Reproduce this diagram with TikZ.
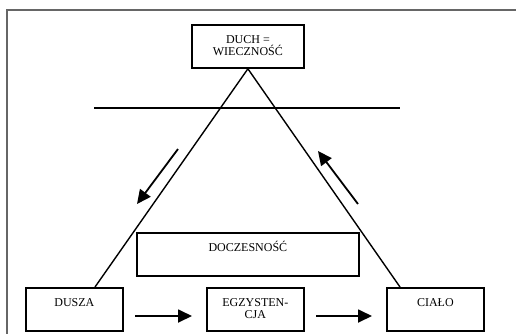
\documentclass[tikz,border=0pt]{standalone}
\usepackage{fontspec}
\setmainfont{Liberation Serif}
\usetikzlibrary{arrows.meta}
\def\pfeil#1#2{
	\draw[->,line width=1.8pt] #1 -- #2;
}
\tikzset{
	kasten/.style={draw,line width=1.8pt,anchor=north west,align=center,inner sep=4pt,
		text height=15pt,text depth=20pt,font=\fontsize{12}{12}\selectfont},
	zweizeilig/.style={kasten,text height=27pt,text depth=8pt},
}

\begin{document}
\begin{tikzpicture}[x=1pt,y=-1pt,>={Triangle[length=14pt,width=13pt]},line width=1.4pt]
\useasboundingbox (0,0) rectangle (516,333);
\draw[line width=2pt,gray!80!black] (7,340) -- (7,10) -- (520,10);
\node[zweizeilig,minimum width=112pt,minimum height=43pt] (duch) at (191,24) {DUCH =\\WIECZNOŚĆ};
\node[kasten,minimum width=222pt,minimum height=42pt] (doczesnosc) at (136,232) {DOCZESNOŚĆ};
\node[kasten,minimum width=97pt,minimum height=43pt] (dusza) at (25,287) {DUSZA};
\node[zweizeilig,minimum width=97pt,minimum height=43pt] (egzystencja) at (206,287) {EGZYSTEN-\\CJA};
\node[kasten,minimum width=97pt,minimum height=43pt] (cialo) at (386,287) {CIAŁO};
\coordinate (fl) at (95,287);
\coordinate (fr) at (400,287);
\coordinate (hl) at (94,108);
\coordinate (hr) at (400,108);
\coordinate (a1) at (178,149);
\coordinate (a2) at (137,204);
\coordinate (b1) at (358,204);
\coordinate (b2) at (318,151);
\coordinate (c1) at (135,316);
\coordinate (c2) at (192,316);
\coordinate (d1) at (316,316);
\coordinate (d2) at (372,316);
\draw (duch.south) -- (fl);
\draw (duch.south) -- (fr);
\draw (hl) -- (hr);
\pfeil{(a1)}{(a2)}
\pfeil{(b1)}{(b2)}
\pfeil{(c1)}{(c2)}
\pfeil{(d1)}{(d2)}
\end{tikzpicture}
\end{document}
